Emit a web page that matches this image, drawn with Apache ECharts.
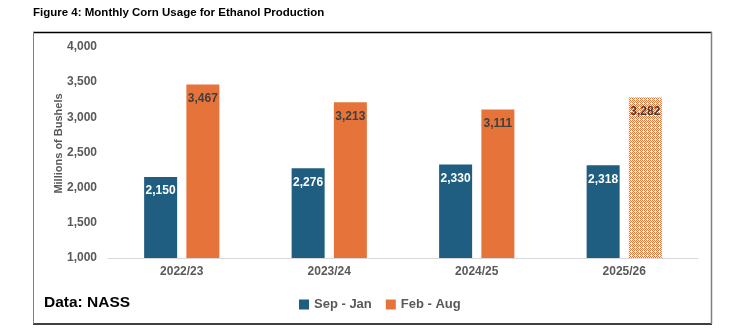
<!DOCTYPE html>
<html>
<head>
<meta charset="utf-8">
<script src="https://cdn.jsdelivr.net/npm/echarts@6/dist/echarts.min.js"></script>
<style>
html,body{margin:0;padding:0;background:#fff;}
#chart{width:739px;height:331px;}
</style>
</head>
<body>
<div id="chart"></div>
<script>
const categories = ['2022/23', '2023/24', '2024/25', '2025/26'];
const sepJan = [2150, 2276, 2330, 2318];
const febAug = [3467, 3213, 3111, 3282];
const projected = [false, false, false, true];
const yTicks = [1000, 1500, 2000, 2500, 3000, 3500, 4000];

const BLUE = '#1F5E80';
const ORANGE = '#E6743A';
const FONT = "'Liberation Sans Narrow', 'Liberation Sans', sans-serif";

// checker pattern for projected bar
const pc = document.createElement('canvas');
pc.width = 4; pc.height = 4;
const pctx = pc.getContext('2d');
pctx.fillStyle = '#ffffff';
pctx.fillRect(0, 0, 4, 4);
pctx.fillStyle = ORANGE;
[[0,0],[2,0],[1,1],[3,1],[0,2],[2,2],[1,3]].forEach(([x, y]) => pctx.fillRect(x, y, 1, 1));

const chart = echarts.init(document.getElementById('chart'), null, {renderer: 'canvas'});

const febData = febAug.map((v, i) => projected[i]
  ? {value: v, itemStyle: {color: {image: pc, repeat: 'repeat'}}}
  : {value: v});

chart.setOption({
  animation: false,
  backgroundColor: '#fff',
  grid: {left: 108, right: 41, top: 47, bottom: 73, containLabel: false},
  legend: {
    data: ['Sep - Jan', 'Feb - Aug'],
    left: 294, top: 293,
    itemWidth: 10, itemHeight: 10, itemGap: 14,
    icon: 'rect',
    textStyle: {fontFamily: FONT, fontWeight: 'bold', fontSize: 13, color: '#595959'}
  },
  xAxis: {
    type: 'category',
    data: categories,
    axisLine: {lineStyle: {color: '#D9D9D9', width: 1}},
    axisTick: {show: false},
    axisLabel: {fontFamily: FONT, fontWeight: 'bold', fontSize: 12, color: '#595959', margin: 8}
  },
  yAxis: {
    type: 'value',
    min: yTicks[0], max: yTicks[yTicks.length - 1], interval: 500,
    name: 'Millions of Bushels',
    nameLocation: 'middle',
    nameGap: 44,
    nameMoveOverlap: false,
    nameTextStyle: {fontFamily: FONT, fontWeight: 'bold', fontSize: 11, color: '#595959', padding: [0, 0, 0, 18]},
    axisLine: {show: false},
    axisTick: {show: false},
    splitLine: {show: false},
    axisLabel: {
      fontFamily: FONT, fontWeight: 'bold', fontSize: 12, color: '#595959', margin: 11,
      formatter: v => v.toLocaleString('en-US')
    }
  },
  series: [
    {
      name: 'Sep - Jan', type: 'bar', data: sepJan,
      barWidth: 33, barGap: '28%',
      itemStyle: {color: BLUE},
      label: {show: true, position: 'insideTop', distance: 8, color: '#fff',
        fontFamily: FONT, fontWeight: 'bold', fontSize: 12,
        formatter: p => p.value.toLocaleString('en-US')}
    },
    {
      name: 'Feb - Aug', type: 'bar', data: febData,
      barWidth: 33,
      itemStyle: {color: ORANGE},
      label: {show: true, position: 'insideTop', distance: 8, color: '#404040',
        fontFamily: FONT, fontWeight: 'bold', fontSize: 12,
        formatter: p => p.value.toLocaleString('en-US')}
    }
  ],
  graphic: [
    {type: 'text', left: 33, top: 7, style: {text: 'Figure 4: Monthly Corn Usage for Ethanol Production',
      font: "bold 11.5px 'Liberation Sans', sans-serif", fill: '#000'}},
    {type: 'text', left: 44, top: 295, style: {text: 'Data: NASS',
      font: "bold 15.5px " + FONT, fill: '#000'}},
    {type: 'line', shape: {x1: 33, y1: 32.5, x2: 712, y2: 32.5}, style: {stroke: '#000', lineWidth: 1.5}},
    {type: 'line', shape: {x1: 33, y1: 324, x2: 712, y2: 324}, style: {stroke: '#000', lineWidth: 1.5}},
    {type: 'line', shape: {x1: 33.5, y1: 32, x2: 33.5, y2: 324}, style: {stroke: '#808080', lineWidth: 1}},
    {type: 'line', shape: {x1: 711.5, y1: 32, x2: 711.5, y2: 324}, style: {stroke: '#808080', lineWidth: 1.5}}
  ]
});
</script>
</body>
</html>
